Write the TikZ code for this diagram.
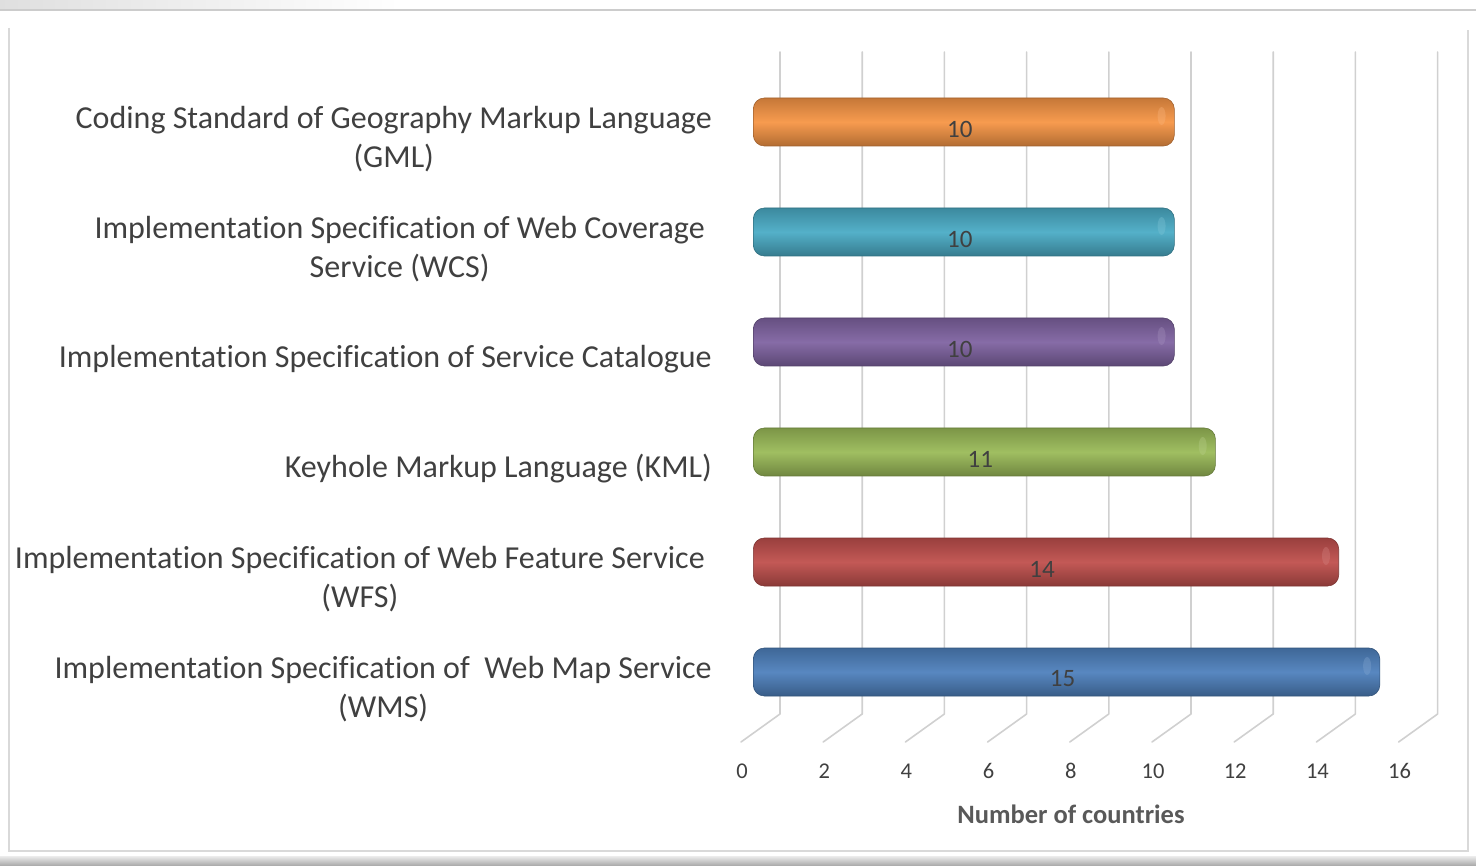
\documentclass[tikz,border=0pt]{standalone}
\usepackage{fontspec}
\setmainfont{Carlito}[Ligatures=NoCommon]
\usetikzlibrary{calc}
\definecolor{txt}{HTML}{404040}
\definecolor{ttl}{HTML}{595959}
\definecolor{grid}{HTML}{D0D0D0}
\definecolor{cOrange}{HTML}{F79646}
\definecolor{cCyan}{HTML}{4BACC6}
\definecolor{cPurple}{HTML}{8064A2}
\definecolor{cGreen}{HTML}{9BBB59}
\definecolor{cRed}{HTML}{C0504D}
\definecolor{cBlue}{HTML}{4F81BD}
\tikzset{
  gridline/.style={draw=grid, line width=1.6pt},
  cat/.style={font=\fontsize{32}{39}\selectfont, text=txt, align=center, anchor=east, inner sep=0pt},
  tick/.style={font=\fontsize{22.5}{26}\selectfont, text=txt, inner sep=0pt},
  val/.style={font=\fontsize{25}{30}\selectfont, text=txt, inner sep=0pt},
  bar/.style={rectangle, rounded corners=11pt, minimum height=48pt, anchor=west, inner sep=0pt,
     draw=#1!65!black, line width=0.6pt,
     top color=#1!80!black, bottom color=#1!72!black, middle color=#1!95!white},
  cap/.style={fill=#1!70!white, opacity=0.35},
}
\begin{document}
\begin{tikzpicture}[x=1pt,y=-1pt]
\useasboundingbox (0,0) rectangle (1476,866);
% frame
\fill[left color=gray!25, right color=white] (0,0) rectangle (400,9);
\draw[gray!40, line width=1.5pt] (0,10) -- (1476,10);
\draw[gray!30, line width=1.2pt] (9,28) -- (9,851) -- (1468,851) -- (1468,30);
\fill[top color=gray!15, bottom color=gray!70] (0,856) rectangle (1476,866);
% gridlines
\foreach \v [count=\i from 0] in {0,2,...,16}{
  \coordinate (gt\i) at ({780+41.1*\v},52);
  \coordinate (gb\i) at ({780+41.1*\v},714);
  \coordinate (gf\i) at ({741+41.1*\v},742);
  \draw[gridline, line cap=round, line join=round] (gt\i) -- (gb\i) -- (gf\i);
  \node[tick] (t\i) at ({742+41.1*\v},771) {\v};
}
% bars
\foreach \n/\y/\v/\c in {b1/122/10/cOrange, b2/232/10/cCyan, b3/342/10/cPurple, b4/452/11/cGreen, b5/562/14/cRed, b6/672/15/cBlue}{
  \node[bar=\c, minimum width={10+41.1*\v}] (\n) at (753,\y) {};
  \fill[cap=\c] ($(\n.east)+(-13,-6)$) ellipse [x radius=4pt, y radius=9pt];
  \node[val] (v\n) at ($(\n.center)+(-4,7)$) {\v};
}
% category labels
\node[cat] (l1) at (712,139) {Coding Standard of Geography Markup Language\\(GML)};
\node[cat] (l2) at (705,249) {Implementation Specification of Web Coverage\\Service (WCS)};
\node[cat] (l3) at (712,359) {Implementation Specification of Service Catalogue};
\node[cat] (l4) at (712,469) {Keyhole Markup Language (KML)};
\node[cat] (l5) at (705,579) {Implementation Specification of Web Feature Service\\(WFS)};
\node[cat] (l6) at (712,689) {Implementation Specification of\ \ Web Map Service\\(WMS)};
% axis title
\node[font=\bfseries\fontsize{26.5}{30}\selectfont, text=ttl, inner sep=0pt] (xt) at (1071,814) {Number of countries};
\end{tikzpicture}
\end{document}
